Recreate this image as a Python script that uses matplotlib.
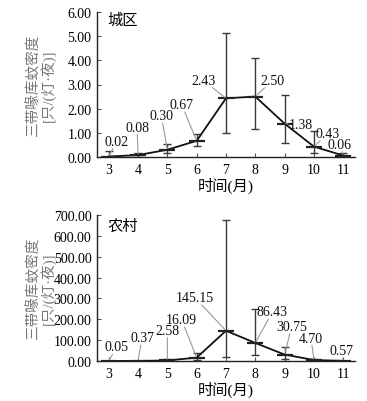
import matplotlib
matplotlib.use('Agg')
import matplotlib.pyplot as plt
import numpy as np

plt.rcParams['font.family'] = ['Liberation Serif', 'Noto Sans CJK SC']
plt.rcParams['axes.unicode_minus'] = False

months = [3, 4, 5, 6, 7, 8, 9, 10, 11]

# 城区 (urban)
urban = [0.02, 0.08, 0.30, 0.67, 2.43, 2.50, 1.38, 0.43, 0.06]
urban_lo = [0.0, 0.02, 0.15, 0.45, 1.00, 1.15, 0.58, 0.15, 0.0]
urban_hi = [0.25, 0.15, 0.55, 0.95, 5.12, 4.08, 2.55, 1.08, 0.15]
urban_labels = ['0.02', '0.08', '0.30', '0.67', '2.43', '2.50', '1.38', '0.43', '0.06']

# 农村 (rural)
rural = [0.05, 0.37, 2.58, 16.09, 145.15, 86.43, 30.75, 4.70, 0.57]
rural_lo = [0.0, 0.0, 0.0, 5.0, 20.0, 30.0, 10.0, 1.0, 0.0]
rural_hi = [1.0, 2.0, 8.0, 40.0, 675.0, 250.0, 65.0, 10.0, 2.0]
rural_labels = ['0.05', '0.37', '2.58', '16.09', '145.15', '86.43', '30.75', '4.70', '0.57']

# label offsets in pixels (text centre relative to point)
urban_off = [(8, 15), (-1, 28), (-6, 34), (-15, 36), (-23, 18), (17, 16), (16, -1), (14, 13), (-4, 11)]
rural_off = [(8, 14), (4, 23), (0, 30), (-15, 38), (-31, 33), (17, 31), (7, 28), (-3, 22), (-2, 10)]

W, H = 367, 402
fig = plt.figure(figsize=(W / 100, H / 100), dpi=100)
ax1 = fig.add_axes([97 / W, 1 - 158 / H, 258 / W, 145 / H])
ax2 = fig.add_axes([97 / W, 1 - 362 / H, 258 / W, 146 / H])


def draw(ax, y, lo, hi, labels, offs, ymax, step, name, name_y):
    y = np.array(y)
    yerr = [y - np.array(lo), np.array(hi) - y]
    ax.errorbar(months, y, yerr=yerr, fmt='none', ecolor='#3a3a3a', elinewidth=1.0,
                capsize=3, capthick=1.0, zorder=2)
    ax.plot(months, y, color='#111111', lw=1.3, zorder=3)
    ax.plot(months, y, ls='none', marker='_', ms=11, mew=1.6, color='#222222', zorder=4)
    for m, v, t, (dx, dy) in zip(months, y, labels, offs):
        ax.annotate(t, xy=(m, v), xytext=(dx, dy), textcoords='offset pixels',
                    ha='center', va='center', fontsize=10, color='#111111',
                    bbox=dict(boxstyle='square,pad=0.05', fc='none', ec='none'),
                    arrowprops=dict(arrowstyle='-', color='#999999', lw=0.8,
                                    shrinkA=0, shrinkB=1), zorder=5)
    ax.set_xlim(2.6, 11.4)
    ax.set_ylim(0, ymax)
    ax.set_xticks(months)
    ax.set_yticks(np.arange(0, ymax + step / 2, step))
    ax.yaxis.set_major_formatter(matplotlib.ticker.FormatStrFormatter('%.2f'))
    ax.spines['top'].set_visible(False)
    ax.spines['right'].set_visible(False)
    for s in ['left', 'bottom']:
        ax.spines[s].set_linewidth(1.0)
        ax.spines[s].set_color('#222222')
    ax.tick_params(direction='in', length=3, width=0.8, labelsize=10, pad=4, color='#555555')
    ax.set_xlabel('时间(月)', fontsize=11, labelpad=1)
    ax.set_ylabel('三带喙库蚊密度\n[只/(灯·夜)]', fontsize=10.5, color='#777777', linespacing=0.95)
    ax.yaxis.set_label_coords(-0.16, 0.5)
    ax.text(0.04, name_y, name, transform=ax.transAxes, fontsize=11, va='center', ha='left')


draw(ax1, urban, urban_lo, urban_hi, urban_labels, urban_off, 6, 1, '城区', 0.945)
draw(ax2, rural, rural_lo, rural_hi, rural_labels, rural_off, 700, 100, '农村', 0.925)

fig.savefig('out.png', dpi=100)
